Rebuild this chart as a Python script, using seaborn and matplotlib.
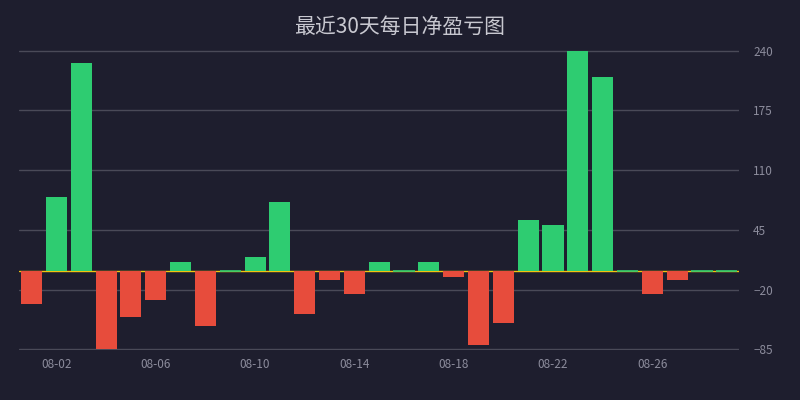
import numpy as np
import pandas as pd
import seaborn as sns
import matplotlib
matplotlib.use("Agg")
import matplotlib.pyplot as plt

dates = ["08-%02d" % d for d in range(1, 30)]
pnl = [-36, 81, 226, -85, -50, -31, 10, -60, 0, 15,
       75, -46, -10, -25, 10, 0, 10, -6, -80, -56,
       56, 50, 240, 211, 0, -25, -10, 0, 0]
y_ticks = [-85, -20, 45, 110, 175, 240]
title = "最近30天每日净盈亏图"

bg = "#1e1e2e"
green = "#2ecc71"
red = "#e74c3c"

df = pd.DataFrame({"date": dates, "pnl": pnl})
df["sign"] = np.where(df["pnl"] >= 0, "up", "down")

sns.set_theme(style="dark")
plt.rcParams["font.family"] = ["Noto Sans CJK SC", "DejaVu Sans"]

fig = plt.figure(figsize=(8, 4), dpi=100, facecolor=bg)
ax = fig.add_axes([0.024, 0.125, 0.9, 0.75])
ax.set_facecolor(bg)

ax.axhline(0, color="#f1c40f", lw=1, zorder=1)
sns.barplot(data=df, x="date", y="pnl", hue="sign",
            palette={"up": green, "down": red}, dodge=False,
            width=0.85, legend=False, ax=ax, zorder=2, saturation=1,
            linewidth=0)
for p in ax.patches:
    if p.get_height() == 0:
        p.set_edgecolor(green)
        p.set_linewidth(1.2)

ax.set_xlim(-0.5, len(dates) - 0.5)
ax.set_ylim(y_ticks[0] - 0.6, y_ticks[-1] + 0.6)
ax.set_xticks(range(1, len(dates), 4))
ax.set_xticklabels(dates[1::4])
ax.set_yticks(y_ticks)
ax.yaxis.tick_right()
ax.tick_params(axis="both", length=0, labelsize=8.5, colors="#8c8c9c")
ax.tick_params(axis="y", pad=10)
ax.tick_params(axis="x", pad=6)
ax.grid(axis="y", color="#4a4a58", lw=1, zorder=0)
ax.set_axisbelow(True)
ax.set_xlabel("")
ax.set_ylabel("")
for s in ax.spines.values():
    s.set_visible(False)

fig.text(0.5, 0.932, title, ha="center", va="center", fontsize=15,
         color="#c8c8d0", fontweight="light")

fig.savefig("out.png", dpi=100, facecolor=bg)
